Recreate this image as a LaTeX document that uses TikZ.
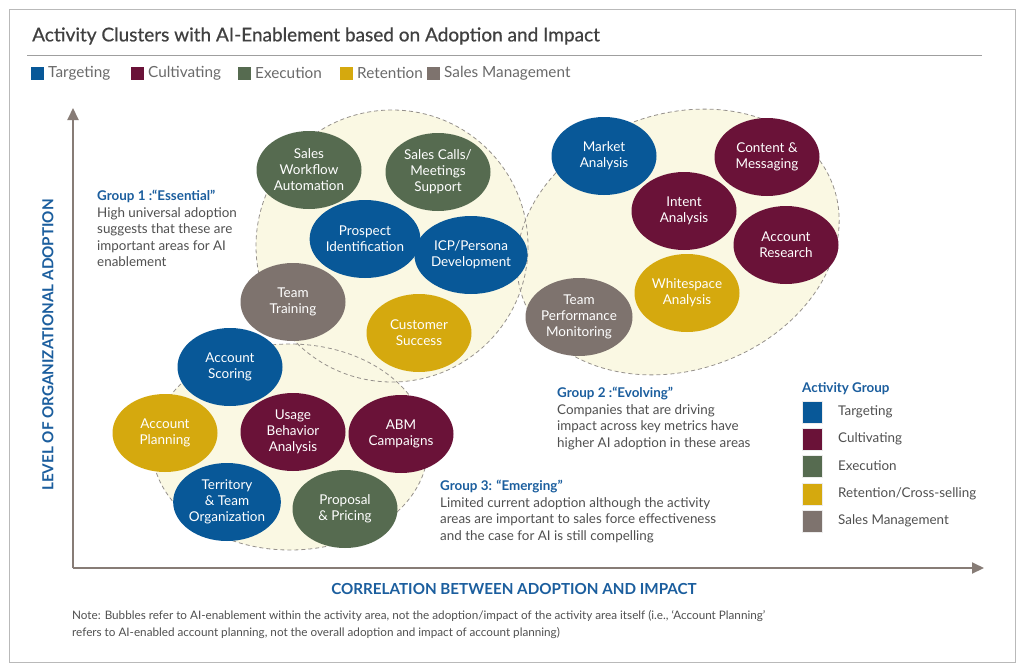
\documentclass[tikz,border=0pt]{standalone}
\usepackage{fontspec}
\setmainfont{Lato}
\newfontfamily\ttlfont[FakeBold=0.6]{Lato}
\usetikzlibrary{shapes.geometric,arrows.meta}
\definecolor{tgt}{RGB}{8,88,152}
\definecolor{cul}{RGB}{106,18,56}
\definecolor{exe}{RGB}{86,107,80}
\definecolor{ret}{RGB}{213,169,14}
\definecolor{smg}{RGB}{126,115,110}
\definecolor{hblue}{RGB}{27,94,158}
\definecolor{cream}{RGB}{250,248,227}
\definecolor{dashg}{RGB}{150,145,140}
\definecolor{txtg}{RGB}{80,80,80}
\definecolor{axisg}{RGB}{135,124,118}
\tikzset{
  bub/.style={ellipse, minimum width=105pt, minimum height=78pt, inner sep=0pt, text=white,
    font=\fontsize{13.5}{16}\selectfont, align=center},
  grp/.style={fill=cream},
  grpline/.style={draw=dashg, dash pattern=on 4pt off 3pt, line width=0.8pt},
  gtext/.style={anchor=north west, inner sep=0pt, align=left, text=txtg,
    font=\fontsize{13.4}{16.5}\selectfont},
  leg/.style={anchor=west, inner sep=0pt, text=txtg!85, font=\fontsize{15.3}{17}\selectfont},
  lsq/.style={minimum width=13pt, minimum height=13pt, inner sep=0pt},
  rsq/.style={minimum width=20pt, minimum height=22pt, inner sep=0pt, draw=white!85!gray, line width=0.6pt},
  rleg/.style={anchor=west, inner sep=0pt, text=txtg, font=\fontsize{13.4}{15}\selectfont},
  axisline/.style={draw=axisg, line width=2pt, -{Triangle[length=12pt,width=11pt]}},
  axlabel/.style={text=hblue, font=\bfseries\fontsize{15.2}{17}\selectfont, inner sep=0pt}
}
\begin{document}
\begin{tikzpicture}[x=1pt,y=-1pt]
\useasboundingbox (0,0) rectangle (1024,669);
\fill[white] (0,0) rectangle (1024,669);
\draw[gray!55, line width=0.8pt] (9,9) rectangle (1015,662);
% title
\node[anchor=west, inner sep=0pt, text=black!75, font=\ttlfont\fontsize{19}{21}\selectfont] (title) at (32,36) {Activity Clusters with AI-Enablement based on Adoption and Impact};
\coordinate (tl) at (27,55);
\coordinate (tr) at (982,55);
\draw[gray!75, line width=0.8pt] (tl) -- (tr);
% top legend
\node[lsq, fill=tgt] (s1) at (37.5,73) {};
\node[leg] (l1) at (48,73) {Targeting};
\node[lsq, fill=cul] (s2) at (137.5,73) {};
\node[leg] (l2) at (148,73) {Cultivating};
\node[lsq, fill=exe] (s3) at (244.5,73) {};
\node[leg] (l3) at (255,73) {Execution};
\node[lsq, fill=ret] (s4) at (346.5,73) {};
\node[leg] (l4) at (357,73) {Retention};
\node[lsq, fill=smg] (s5) at (433.5,73) {};
\node[leg] (l5) at (444,73) {Sales Management};
% group fills
\fill[grp] (392,246) circle [radius=136];
\fill[grp, rotate around={20:(678,242)}] (678,242) ellipse [x radius=165, y radius=128];
\fill[grp] (290,447) ellipse [x radius=138, y radius=103];
% group outlines
\draw[grpline] (392,246) circle [radius=136];
\draw[grpline, rotate around={20:(678,242)}] (678,242) ellipse [x radius=165, y radius=128];
\draw[grpline] (290,447) ellipse [x radius=138, y radius=103];
% axes
\coordinate (o) at (73,568);
\coordinate (yt) at (73,108);
\coordinate (xt) at (984,568);
\draw[axisline] (o) -- (yt);
\draw[axisline] (o) -- (xt);
\node[axlabel, rotate=90] (ylab) at (48,345) {LEVEL OF ORGANIZATIONAL ADOPTION};
\node[axlabel] (xlab) at (514,589) {CORRELATION BETWEEN ADOPTION AND IMPACT};
% bubbles group 1
\node[bub, fill=exe] (swa) at (309,170) {Sales\\Workflow\\Automation};
\node[bub, fill=exe] (scm) at (438,172) {Sales Calls/\\Meetings\\Support};
\node[bub, fill=tgt] (pid) at (365,239) {Prospect\\Identification};
\node[bub, fill=tgt] (icp) at (471,255) {ICP/Persona\\Development};
\node[bub, fill=smg] (ttr) at (293,302) {Team\\Training};
\node[bub, fill=ret] (cus) at (419,333) {Customer\\Success};
% group 2
\node[bub, fill=tgt] (mka) at (604,156) {Market\\Analysis};
\node[bub, fill=cul] (cms) at (767,157) {Content \&\\Messaging};
\node[bub, fill=cul] (ina) at (684,211) {Intent\\Analysis};
\node[bub, fill=cul] (acr) at (786,245) {Account\\Research};
\node[bub, fill=ret] (wsa) at (687,293) {Whitespace\\Analysis};
\node[bub, fill=smg] (tpm) at (579,317) {Team\\Performance\\Monitoring};
% group 3
\node[bub, fill=tgt] (asc) at (230,367) {Account\\Scoring};
\node[bub, fill=ret] (apl) at (165,433) {Account\\Planning};
\node[bub, fill=cul] (uba) at (293,432) {Usage\\Behavior\\Analysis};
\node[bub, fill=cul] (abm) at (401,434) {ABM\\Campaigns};
\node[bub, fill=tgt] (tto) at (227,502) {Territory\\\& Team\\Organization};
\node[bub, fill=exe] (ppr) at (345,509) {Proposal\\\& Pricing};
% group texts
\node[gtext] (g1) at (97,190) {\textcolor{hblue}{\bfseries Group 1 :“Essential”}\\High universal adoption\\suggests that these are\\important areas for AI\\enablement};
\node[gtext] (g2) at (557,387) {\textcolor{hblue}{\bfseries Group 2 :“Evolving”}\\Companies that are driving\\impact across key metrics have\\higher AI adoption in these areas};
\node[gtext] (g3) at (440,480) {\textcolor{hblue}{\bfseries Group 3: “Emerging”}\\Limited current adoption although the activity\\areas are important to sales force effectiveness\\and the case for AI is still compelling};
% right legend
\node[anchor=west, inner sep=0pt, text=hblue, font=\bfseries\fontsize{13.4}{15}\selectfont] (agt) at (802,389) {Activity Group};
\node[rsq, fill=tgt] (r1) at (812,412) {};
\node[rleg] (rl1) at (838,412) {Targeting};
\node[rsq, fill=cul] (r2) at (812,439) {};
\node[rleg] (rl2) at (838,439) {Cultivating};
\node[rsq, fill=exe] (r3) at (812,466) {};
\node[rleg] (rl3) at (838,466) {Execution};
\node[rsq, fill=ret] (r4) at (812,494) {};
\node[rleg] (rl4) at (838,494) {Retention/Cross-selling};
\node[rsq, fill=smg] (r5) at (812,521) {};
\node[rleg] (rl5) at (838,521) {Sales Management};
% note
\node[anchor=north west, inner sep=0pt, align=left, text=txtg, font=\fontsize{11.7}{17}\selectfont] (note) at (72,610) {Note: Bubbles refer to AI-enablement within the activity area, not the adoption/impact of the activity area itself (i.e., ‘Account Planning’\\refers to AI-enabled account planning, not the overall adoption and impact of account planning)};
\end{tikzpicture}
\end{document}
